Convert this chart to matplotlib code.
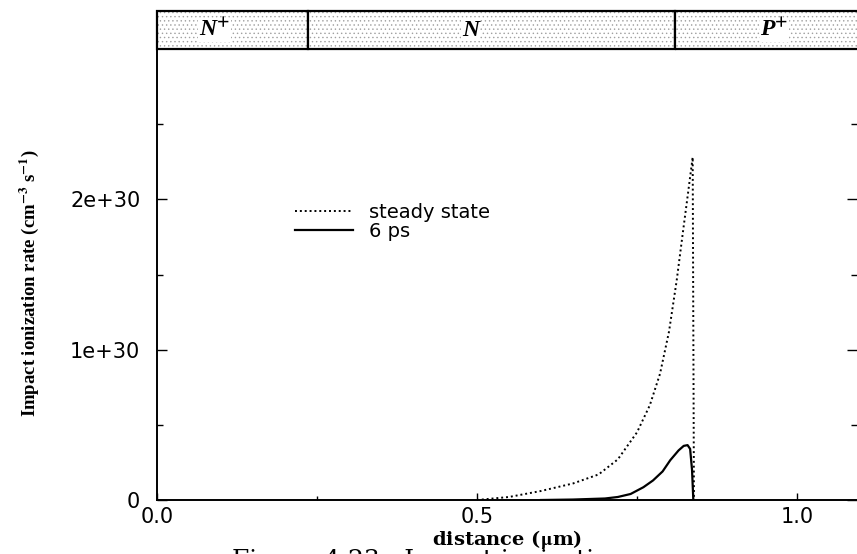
import matplotlib
matplotlib.use("Agg")
import matplotlib.pyplot as plt
from matplotlib.patches import Rectangle
from matplotlib.ticker import FixedLocator

# steady state impact ionization rate (x in um, y in 1e30 cm^-3 s^-1)
steady_x = [0.50, 0.55, 0.60, 0.65, 0.69, 0.72, 0.75, 0.77, 0.786, 0.80,
            0.812, 0.822, 0.830, 0.837, 0.839]
steady_y = [0.0, 0.02, 0.06, 0.11, 0.17, 0.27, 0.45, 0.63, 0.84, 1.12,
            1.46, 1.79, 2.05, 2.28, 0.0]

# transient at 6 ps
ps6_x = [0.60, 0.65, 0.70, 0.72, 0.74, 0.76, 0.775, 0.79, 0.802, 0.815,
         0.823, 0.829, 0.833, 0.836, 0.838]
ps6_y = [0.0, 0.003, 0.01, 0.02, 0.04, 0.085, 0.13, 0.19, 0.265, 0.33,
         0.36, 0.365, 0.34, 0.20, 0.0]

# device regions along the top
regions = [("N", "+", 0.0, 0.236), ("N", "", 0.236, 0.81), ("P", "+", 0.81, 1.2)]
label_x = [0.09, 0.49, 0.965]

W, H = 857, 554
fig = plt.figure(figsize=(W / 100, H / 100), dpi=100)
plt.rcParams["mathtext.fontset"] = "stix"
plt.rcParams["hatch.linewidth"] = 0.5

left, bottom, top = 157 / W, 1 - 500 / H, 1 - 49 / H
ax = fig.add_axes([left, bottom, 1.0 - left, top - bottom])

scale = 1e30
ax.plot(steady_x, [v * scale for v in steady_y], color="black", lw=1.4,
        linestyle=(0, (1, 1.5)), label="steady state")
ax.plot(ps6_x, [v * scale for v in ps6_y], color="black", lw=1.6,
        label="6 ps")

ax.set_xlim(0, 700 / 640)
ax.set_ylim(0, 3e30)

for s in ["top", "right"]:
    ax.spines[s].set_visible(False)
ax.spines["left"].set_linewidth(1.4)
ax.spines["bottom"].set_linewidth(1.4)

ax.xaxis.set_major_locator(FixedLocator([0.0, 0.5, 1.0]))
ax.xaxis.set_minor_locator(FixedLocator([0.25, 0.75]))
ax.yaxis.set_major_locator(FixedLocator([0, 1e30, 2e30]))
ax.yaxis.set_minor_locator(FixedLocator([0.5e30, 1.5e30, 2.5e30]))
ax.set_xticklabels(["0.0", "0.5", "1.0"])
ax.set_yticklabels(["0", "1e+30", "2e+30"])
ax.tick_params(axis="both", which="both", direction="in", width=1.0)
ax.tick_params(axis="y", which="both", right=True)
ax.tick_params(axis="y", which="major", length=7, pad=12, labelsize=15)
ax.tick_params(axis="y", which="minor", length=4)
ax.tick_params(axis="x", which="major", length=5, pad=5, labelsize=15)
ax.tick_params(axis="x", which="minor", length=3)
for lab in ax.get_xticklabels() + ax.get_yticklabels():
    lab.set_family("DejaVu Sans")

ax.set_xlabel(r"distance ($\mathbf{\mu}$m)", family="DejaVu Serif",
              fontweight="bold", fontsize=14, labelpad=1)
ax.set_ylabel(r"Impact ionization rate (cm$^{\mathbf{-3}}$ s$^{\mathbf{-1}}$)",
              family="Liberation Serif", fontweight="bold", fontsize=13.5)
ax.yaxis.set_label_coords(-0.165, 0.48)

ax.legend(loc="center left", bbox_to_anchor=((295 - 157) / 700, (500 - 222) / 451),
          frameon=False, handlelength=3.0, handletextpad=0.8,
          labelspacing=0.0, borderpad=0, borderaxespad=0,
          prop={"family": "DejaVu Sans", "size": 14})

# banner with the doping regions
bx = fig.add_axes([left, 1 - 49 / H, 1.0 - left, 38 / H])
bx.set_xlim(ax.get_xlim())
bx.set_ylim(0, 1)
bx.axis("off")
for (name, sup, x0, x1), lx in zip(regions, label_x):
    bx.add_patch(Rectangle((x0, 0), x1 - x0, 1, facecolor="white",
                           edgecolor="#a0a0a0", hatch="....", lw=0))
    bx.add_patch(Rectangle((x0, 0), x1 - x0, 1, facecolor="none",
                           edgecolor="black", lw=1.6, clip_on=False))
    txt = name if not sup else name + r"$^{\mathbf{+}}$"
    bx.text(lx, 0.5, txt, ha="center", va="center", fontsize=17,
            family="Liberation Serif", fontweight="bold", style="italic",
            bbox=dict(facecolor="white", edgecolor="none", pad=0.5))

# figure caption, cut off by the bottom edge
fig.text(232 / W, 1 - 549 / H, "Figure 4.23:  Impact ionization",
         family="DejaVu Serif", fontsize=18, va="top", ha="left")

fig.savefig("out.png", dpi=100)
